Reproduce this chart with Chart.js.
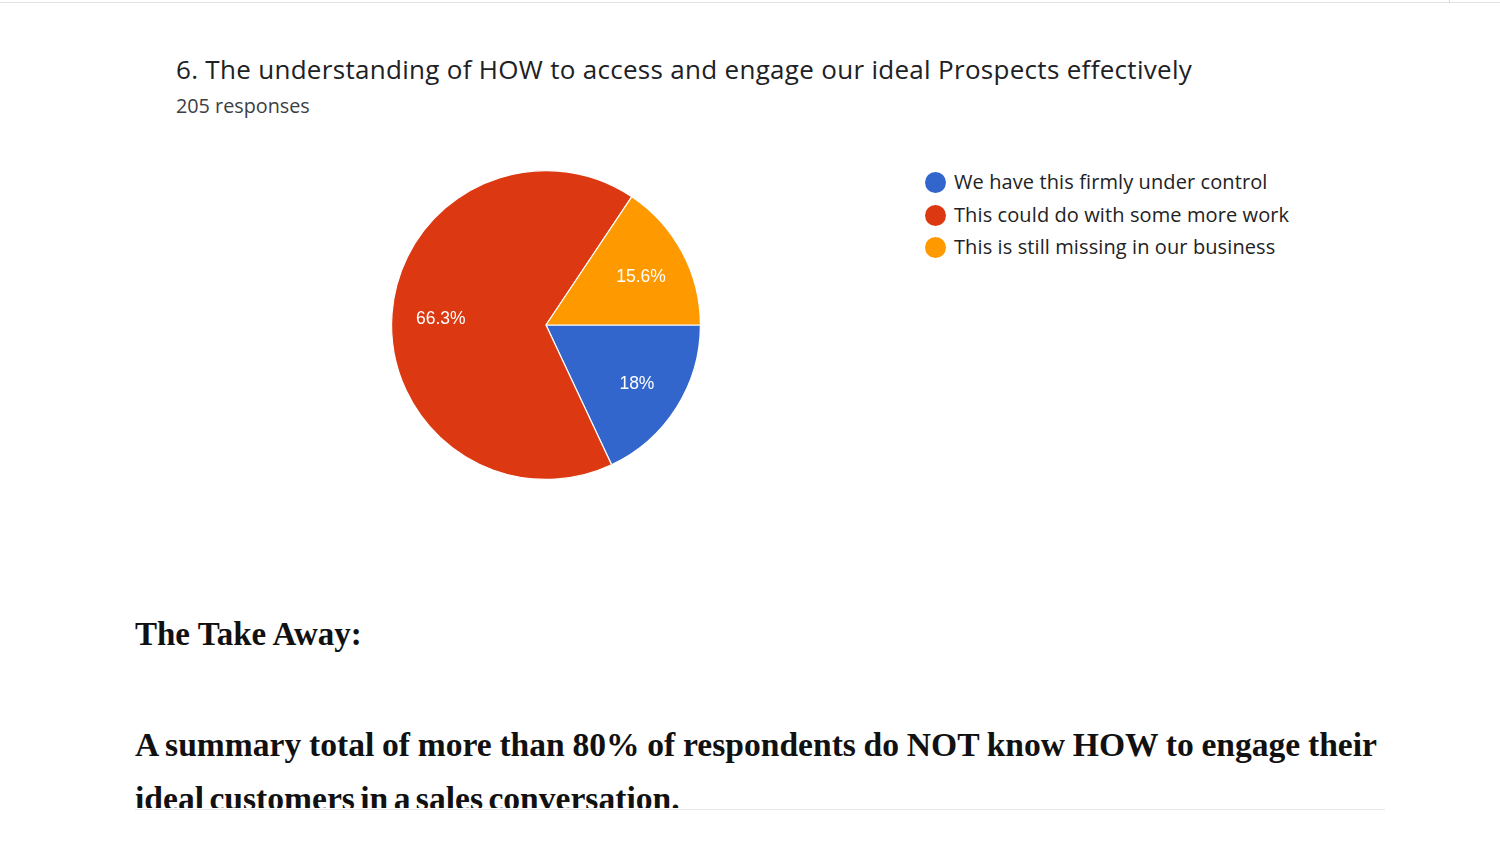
<!DOCTYPE html>
<html>
<head>
<meta charset="utf-8">
<script src="https://cdn.jsdelivr.net/npm/chart.js@4.4.1/dist/chart.umd.min.js"></script>
<style>
  html, body { margin: 0; padding: 0; background: #fff; }
  body { width: 1500px; height: 848px; position: relative; overflow: hidden; }
  .topline { position: absolute; left: 0; top: 2px; width: 1500px; height: 1px; background: #e3e3e3; }
  .topsep { position: absolute; left: 1449px; top: 0; width: 1px; height: 3px; background: #d8d8d8; }
  #titulo { position: absolute; left: 176px; top: 55px; line-height: 28px; font-family: "Open Sans", Roboto, sans-serif; font-size: 26px; color: #202124; white-space: nowrap; letter-spacing: 0.3px; }
  #respuestas { position: absolute; left: 176px; top: 94px; line-height: 24px; font-family: "Open Sans", Roboto, sans-serif; font-size: 19.8px; color: #3c4043; white-space: nowrap; }
  #pieBox { position: absolute; left: 386px; top: 165px; width: 320px; height: 320px; }
  #leyenda { position: absolute; left: 925px; top: 167px; font-family: "Open Sans", Roboto, sans-serif; font-size: 20px; color: #222; letter-spacing: 0.1px; }
  #leyenda div { height: 32.5px; line-height: 30px; white-space: nowrap; }
  #leyenda span.dot { display: inline-block; width: 21px; height: 21px; border-radius: 50%; vertical-align: -4px; margin-right: 8px; }
  #takeaway { position: absolute; left: 135px; top: 616px; font-family: "Liberation Serif", "Times New Roman", serif; font-weight: bold; font-size: 33px; color: #111; white-space: nowrap; }
  #resumen { position: absolute; left: 135px; top: 718px; width: 1242px; height: 90px; overflow: hidden; font-family: "Liberation Serif", "Times New Roman", serif; font-weight: bold; font-size: 33.6px; line-height: 54px; color: #111; text-align: justify; word-spacing: -3px; }
  .bottomline { position: absolute; left: 135px; top: 809px; width: 1250px; height: 1px; background: #e6e6e6; }
</style>
</head>
<body>
<div class="topline"></div>
<div class="topsep"></div>
<div id="titulo">6. The understanding of HOW to access and engage our ideal Prospects effectively</div>
<div id="respuestas">205 responses</div>
<div id="pieBox"><canvas id="myChart"></canvas></div>
<div id="leyenda"></div>
<div id="takeaway">The Take Away:</div>
<div id="resumen">A summary total of more than 80% of respondents do NOT know HOW to engage their ideal customers in a sales conversation.</div>
<div class="bottomline"></div>

<script>
// datos
const categorias = ["We have this firmly under control", "This could do with some more work", "This is still missing in our business"];
const valores = [18, 66.3, 15.6];
const etiquetas = ["18%", "66.3%", "15.6%"];
const colores = ["#3366cc", "#dc3912", "#ff9900"];

// leyenda html desde los arrays
const leyenda = document.getElementById("leyenda");
categorias.forEach((cat, i) => {
  const fila = document.createElement("div");
  fila.innerHTML = `<span class="dot" style="background:${colores[i]}"></span>${cat}`;
  leyenda.appendChild(fila);
});

// plugin para los porcentajes dentro de cada porcion
const etiquetasPlugin = {
  id: "etiquetasPorcion",
  afterDatasetsDraw(chart) {
    const ctx = chart.ctx;
    const meta = chart.getDatasetMeta(0);
    ctx.save();
    ctx.fillStyle = "#ffffff";
    ctx.font = "17.5px 'Liberation Sans', Arial, sans-serif";
    ctx.textAlign = "center";
    ctx.textBaseline = "middle";
    meta.data.forEach((arc, i) => {
      const p = arc.getProps(["x", "y", "startAngle", "endAngle", "outerRadius"], true);
      const medio = (p.startAngle + p.endAngle) / 2;
      const r = p.outerRadius * 0.69;
      ctx.fillText(etiquetas[i], p.x + Math.cos(medio) * r + 1, p.y + Math.sin(medio) * r + 2);
    });
    ctx.restore();
  }
};

const config = {
  type: "pie",
  data: {
    labels: categorias,
    datasets: [{
      data: valores,
      backgroundColor: colores,
      borderColor: "#ffffff",
      borderWidth: 1.2
    }]
  },
  options: {
    responsive: true,
    maintainAspectRatio: false,
    animation: false,
    rotation: 90,
    layout: { padding: 5 },
    plugins: {
      legend: { display: false },
      tooltip: { enabled: false }
    }
  },
  plugins: [etiquetasPlugin]
};

new Chart(document.getElementById("myChart"), config);
</script>
</body>
</html>
